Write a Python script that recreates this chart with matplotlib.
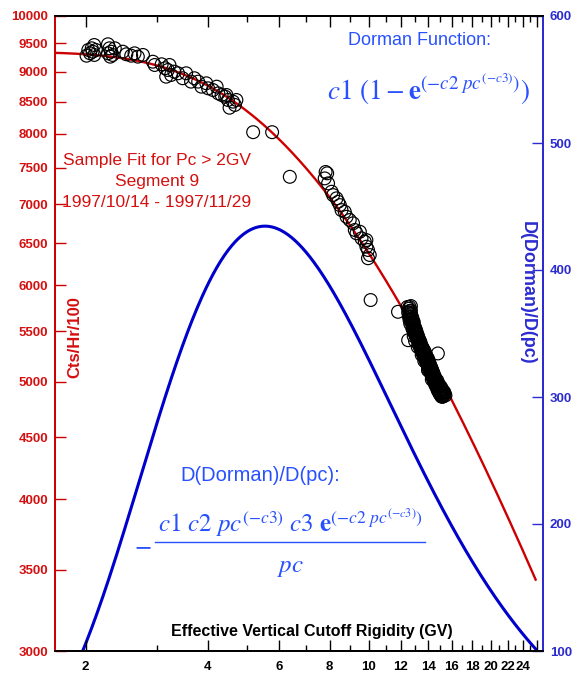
import numpy as np
import matplotlib
matplotlib.use("Agg")
import matplotlib.pyplot as plt
from matplotlib.lines import Line2D
from matplotlib.ticker import FixedLocator, FixedFormatter, NullLocator

plt.rcParams['font.family'] = ['Liberation Sans', 'DejaVu Sans']
plt.rcParams['mathtext.fontset'] = 'stix'

# Dorman function fit, segment 9 (Pc > 2GV)
c1 = 9340.0
c2 = 10.66
c3 = 0.968
pc_lo, pc_hi = 1.6, 25.8

# hourly station rates (Cts/Hr/100) against effective vertical cutoff rigidity (GV)
pc_obs = [
    2.03, 2.05, 2.07, 2.08, 2.10, 2.10, 2.12, 2.01,
    2.27, 2.29, 2.31, 2.33, 2.36, 2.27, 2.30,
    2.47, 2.52, 2.59, 2.64, 2.69, 2.77, 2.93, 2.96, 3.08, 3.14,
    3.19, 3.22, 3.25, 3.16, 3.31, 3.38, 3.47, 3.54, 3.64, 3.71,
    3.79, 3.86, 3.97, 4.01, 4.12, 4.21, 4.25, 4.33, 4.42, 4.45,
    4.49, 4.62, 4.71, 4.67, 4.53,
    5.18, 5.77, 6.38, 10.1, 11.8,
    7.82, 7.89, 7.78, 7.93, 8.09, 8.16, 8.32, 8.40, 8.48, 8.56,
    8.72, 8.81, 8.97, 9.14, 9.23, 9.32, 9.50, 9.59, 9.77, 9.86,
    9.95, 10.05, 9.95, 9.86,
    12.5, 14.8, 14.0, 15.2,
    12.55, 12.6, 12.65, 12.7, 12.6, 12.7, 12.75, 12.8, 12.65, 12.85,
    12.9, 12.8, 12.95, 13.0, 13.05, 12.9, 13.1, 13.15, 13.2, 13.0,
    13.25, 13.3, 13.35, 13.4, 13.2, 13.45, 13.5, 13.55, 13.6, 13.65,
    13.5, 13.7, 13.75, 13.8, 13.85, 13.9, 13.7, 13.95, 14.0, 14.05,
    14.1, 14.15, 14.2, 14.0, 14.25, 14.3, 14.35, 14.4, 14.45, 14.5,
    14.3, 14.55, 14.6, 14.7, 14.75, 14.8, 14.85, 14.9, 14.95, 15.0,
    15.05, 15.1, 15.15, 15.2, 15.25, 15.3, 15.1, 15.35,
    12.5, 12.55, 12.6, 12.7, 12.75, 12.8, 12.85, 12.9, 12.95, 13.0,
    13.05, 13.1, 13.15, 13.2, 13.25, 13.3, 13.35, 13.4, 13.45, 13.5,
    13.55, 13.6, 13.65, 13.7, 13.75, 13.8, 13.85, 13.9, 13.95, 14.0,
    14.05, 14.1, 14.15, 14.2, 14.25, 14.3, 14.35, 14.4, 14.45, 14.5,
    14.55, 14.6, 14.65, 14.7, 14.75, 14.8, 14.85, 14.9, 14.95, 15.0,
    15.05, 15.1, 15.2, 15.3, 15.4, 15.45, 12.45, 12.6, 12.7,
    12.58, 12.62, 12.68, 12.72, 12.78, 12.82, 12.88, 12.92, 12.98, 13.02,
    13.08, 13.12, 13.18, 13.22, 13.28, 13.32, 13.38, 13.42, 13.48, 13.52,
    13.58, 13.62, 13.68, 13.72, 13.78, 13.82, 13.88, 13.92, 13.98, 14.02,
    14.08, 14.12, 14.18, 14.22, 14.28, 14.32, 14.38, 14.42, 14.48, 14.52,
    14.58, 14.62, 14.68, 14.72, 14.78, 14.82, 14.88, 14.92, 14.98, 15.02,
    15.08, 15.18, 15.28,
]
cts_obs = [
    9376, 9317, 9406, 9346, 9465, 9288, 9376, 9275,
    9478, 9406, 9346, 9288, 9406, 9317, 9258,
    9346, 9300, 9275, 9317, 9258, 9288, 9170, 9113, 9125, 9057,
    9027, 9113, 8942, 8913, 8999, 8971, 8887, 8971, 8830, 8887,
    8830, 8746, 8802, 8719, 8691, 8746, 8636, 8609, 8581, 8609,
    8528, 8501, 8528, 8448, 8404,
    8023, 8023, 7372, 5836, 5707,
    7440, 7421, 7350, 7281, 7166, 7121, 7077, 7031, 6987, 6921,
    6899, 6834, 6792, 6750, 6665, 6623, 6643, 6560, 6518, 6457,
    6417, 6356, 6317, 6539,
    5408, 5274, 5110, 4858,
    5740, 5700, 5680, 5720, 5650, 5620, 5660, 5600, 5580, 5560,
    5600, 5530, 5510, 5540, 5470, 5450, 5500, 5430, 5460, 5400,
    5390, 5420, 5360, 5390, 5340, 5330, 5350, 5300, 5320, 5280,
    5260, 5300, 5250, 5270, 5220, 5240, 5200, 5190, 5220, 5160,
    5180, 5130, 5150, 5110, 5100, 5120, 5070, 5090, 5040, 5060,
    5020, 5010, 5030, 4990, 5010, 4960, 4980, 4940, 4960, 4920,
    4950, 4900, 4930, 4890, 4910, 4880, 4860, 4900,
    5700, 5660, 5620, 5680, 5590, 5640, 5520, 5560, 5480, 5500,
    5520, 5440, 5470, 5410, 5430, 5370, 5400, 5340, 5360, 5310,
    5330, 5290, 5310, 5260, 5280, 5230, 5250, 5200, 5210, 5170,
    5190, 5140, 5160, 5110, 5130, 5080, 5100, 5050, 5070, 5020,
    5040, 4990, 5010, 4960, 4980, 4930, 4950, 4910, 4920, 4890,
    4900, 4870, 4860, 4900, 4880, 4870, 5760, 5760, 5770,
    5715, 5690, 5650, 5610, 5630, 5575, 5590, 5530, 5520, 5480,
    5460, 5470, 5420, 5440, 5380, 5350, 5370, 5320, 5300, 5330,
    5270, 5300, 5240, 5270, 5210, 5240, 5180, 5220, 5150, 5200,
    5120, 5150, 5090, 5130, 5060, 5090, 5030, 5060, 5000, 5040,
    4970, 5000, 4950, 4970, 4920, 4940, 4900, 4920, 4880, 4910,
    4890, 4875, 4890,
]

x_major = list(range(2, 27, 2))
x_labels = [str(v) for v in range(2, 25, 2)] + [""]
x_minor = list(range(3, 26, 2))
y_ticks = list(range(3000, 10001, 500))
y2_ticks = [100, 200, 300, 400, 500, 600]

red = '#cc0000'
red_txt = '#d41010'
blue = '#0000cc'
blue_axis = '#2b2bd0'
blue_txt = '#2850ff'


def dorman(pc):
    return c1 * (1 - np.exp(-c2 * pc ** (-c3)))


def dorman_slope(pc):
    u = c2 * pc ** (-c3)
    return c1 * c2 * pc ** (-c3) * c3 * np.exp(-u) / pc


pc = np.geomspace(pc_lo, pc_hi, 400)

fig = plt.figure(figsize=(5.78, 6.73), dpi=100)
ax = fig.add_axes([55 / 578, 22 / 673, 488 / 578, 635 / 673])
ax2 = ax.twinx()

ax.set_xscale('log')
ax.set_yscale('log')
ax.set_xlim(1.68, 26.9)
ax.set_ylim(3000, 10000)
ax2.set_ylim(100, 600)

ax2.plot(pc, dorman_slope(pc), color=blue, lw=2.2, zorder=2)
ax.plot(pc, dorman(pc), color=red, lw=1.7, zorder=2)
ax.scatter(pc_obs, cts_obs, s=85, facecolors='none', edgecolors='black',
           linewidths=0.85, zorder=3)
ax.set_zorder(ax2.get_zorder() + 1)
ax.patch.set_visible(False)

# x axis: ticks on every GV, labels on the even ones
ax.xaxis.set_major_locator(FixedLocator(x_major))
ax.xaxis.set_major_formatter(FixedFormatter(x_labels))
ax.xaxis.set_minor_locator(FixedLocator(x_minor))
ax.xaxis.set_minor_formatter(FixedFormatter([]))
ax.tick_params(axis='x', which='both', direction='in', top=True, colors='black',
               labelsize=9.5, pad=7)
ax.tick_params(axis='x', which='major', length=8, width=1)
ax.tick_params(axis='x', which='minor', length=4, width=1)
for lab in ax.get_xticklabels():
    lab.set_fontweight('bold')

# left axis, counts
ax.yaxis.set_major_locator(FixedLocator(y_ticks))
ax.yaxis.set_major_formatter(FixedFormatter([str(v) for v in y_ticks]))
ax.yaxis.set_minor_locator(NullLocator())
ax.tick_params(axis='y', which='major', direction='in', length=8, width=1,
               colors=red, labelcolor=red_txt, labelsize=9.5, right=False, pad=5)
for lab in ax.get_yticklabels():
    lab.set_fontweight('bold')

# right axis, derivative
ax2.yaxis.set_major_locator(FixedLocator(y2_ticks))
ax2.tick_params(axis='y', direction='in', length=8, width=1, colors=blue_axis,
                labelsize=9.5, pad=5)
for lab in ax2.get_yticklabels():
    lab.set_fontweight('bold')

for a in (ax, ax2):
    a.spines['left'].set_color(red)
    a.spines['right'].set_color(blue_axis)
    a.spines['top'].set_color('black')
    a.spines['bottom'].set_color('black')
    for s in a.spines.values():
        s.set_linewidth(1.3)

ax.set_xlabel('Effective Vertical Cutoff Rigidity (GV)', fontsize=11.5,
              fontweight='bold', color='black')
ax.xaxis.set_label_coords(0.527, 0.0425)
ax.set_ylabel('Cts/Hr/100', fontsize=12, fontweight='bold', color=red_txt)
ax.yaxis.set_label_coords(0.056, 0.4945)
ax2.set_ylabel('D(Dorman)/D(pc)', fontsize=13, fontweight='bold', color=blue_axis,
               rotation=-90, va='center')
ax2.yaxis.set_label_coords(0.967, 0.564)

ax.text(0.209, 0.740, 'Sample Fit for Pc > 2GV\nSegment 9\n1997/10/14 - 1997/11/29',
        transform=ax.transAxes, ha='center', va='center', multialignment='center',
        fontsize=12.5, color=red_txt, linespacing=1.5)

ax.text(0.746, 0.962, 'Dorman Function:', transform=ax.transAxes,
        ha='center', va='center', fontsize=13, color=blue_txt)
ax.text(0.766, 0.885,
        r'$\mathit{c1}\ (1 - \mathbf{e}^{(-\mathit{c2}\ pc^{(-\mathit{c3})})})$',
        transform=ax.transAxes, ha='center', va='center', fontsize=19.5, color=blue_txt)

# derivative formula, set as a stacked fraction
ax.text(0.42, 0.277, 'D(Dorman)/D(pc):', transform=ax.transAxes,
        ha='center', va='center', fontsize=14.5, color=blue_txt)
ax.text(0.180, 0.167, r'$-$', transform=ax.transAxes,
        ha='center', va='center', fontsize=18, color=blue_txt)
ax.text(0.482, 0.186,
        r'$\mathit{c1}\ \mathit{c2}\ pc^{(-\mathit{c3})}\ \mathit{c3}\ '
        r'\mathbf{e}^{(-\mathit{c2}\ pc^{(-\mathit{c3})})}$',
        transform=ax.transAxes, ha='center', va='baseline', fontsize=18, color=blue_txt)
ax.add_line(Line2D([0.205, 0.758], [0.1717, 0.1717], transform=ax.transAxes,
                   color=blue_txt, lw=1.0))
ax.text(0.482, 0.132, r'$pc$', transform=ax.transAxes,
        ha='center', va='center', fontsize=18, color=blue_txt)

fig.savefig('out.png', dpi=100)
